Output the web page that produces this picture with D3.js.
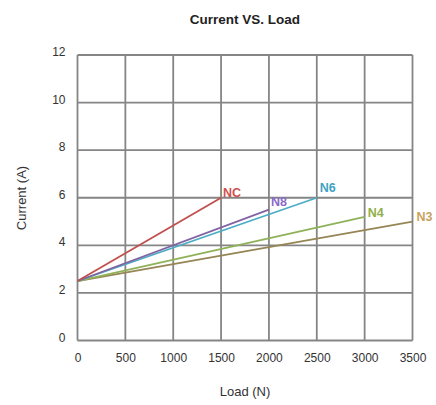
<!DOCTYPE html>
<html>
<head>
<meta charset="utf-8">
<script src="https://cdn.jsdelivr.net/npm/d3@7"></script>
<style>
  html, body { margin: 0; padding: 0; background: #fff; }
  svg { display: block; font-family: "Liberation Sans", Arial, sans-serif; }
</style>
</head>
<body>
<svg id="chart" width="436" height="405"></svg>
<script>
// Current draw versus applied load for each motor variant
const seriesNames = ["NC", "N8", "N6", "N4", "N3"];
const seriesColors = ["#c0504d", "#8064a2", "#4bacc6", "#8fb259", "#968655"];
const labelColors = ["#d0504d", "#8a6ac8", "#3ea3c4", "#8fb04a", "#c9a25c"];
const loadStart = [0, 0, 0, 0, 0];
const loadEnd = [1500, 2000, 2500, 3000, 3500];
const currentStart = [2.5, 2.5, 2.5, 2.5, 2.5];
const currentEnd = [6.0, 5.5, 6.0, 5.2, 5.0];
const xTicks = [0, 500, 1000, 1500, 2000, 2500, 3000, 3500];
const yTicks = [0, 2, 4, 6, 8, 10, 12];

const svg = d3.select("#chart");
const plotLeft = 77.5, plotRight = 412.5, plotTop = 55, plotBottom = 340.5;

const x = d3.scaleLinear().domain([0, 3500]).range([plotLeft, plotRight]);
const y = d3.scaleLinear().domain([0, 12]).range([plotBottom, plotTop]);

// Title
svg.append("text")
  .attr("x", 245).attr("y", 24)
  .attr("text-anchor", "middle")
  .attr("font-size", 13.5).attr("font-weight", "bold")
  .attr("fill", "#222")
  .text("Current VS. Load");

// Grid
const grid = svg.append("g").attr("stroke", "#858585").attr("stroke-width", 1.8);
grid.selectAll("line.v").data(xTicks).join("line")
  .attr("class", "v")
  .attr("x1", d => x(d)).attr("x2", d => x(d))
  .attr("y1", plotTop).attr("y2", plotBottom);
grid.selectAll("line.h").data(yTicks).join("line")
  .attr("class", "h")
  .attr("x1", plotLeft).attr("x2", plotRight)
  .attr("y1", d => y(d)).attr("y2", d => y(d));

// Axes (labels only, the grid forms the frame)
const xAxis = svg.append("g")
  .attr("transform", `translate(0,${plotBottom})`)
  .call(d3.axisBottom(x).tickValues(xTicks).tickFormat(d3.format("d"))
    .tickSize(0).tickPadding(13));
const yAxis = svg.append("g")
  .attr("transform", `translate(${plotLeft},0)`)
  .call(d3.axisLeft(y).tickValues(yTicks).tickFormat(d3.format("d"))
    .tickSize(0).tickPadding(12));
[xAxis, yAxis].forEach(a => {
  a.select(".domain").remove();
  a.selectAll("text")
    .attr("font-family", "Liberation Sans, Arial, sans-serif")
    .attr("font-size", 12).attr("fill", "#333");
});
yAxis.selectAll("text").attr("dy", "0.05em");

// Axis titles
svg.append("text")
  .attr("x", 245).attr("y", 396)
  .attr("text-anchor", "middle")
  .attr("font-size", 13).attr("fill", "#333")
  .text("Load (N)");
svg.append("text")
  .attr("transform", "translate(26,198) rotate(-90)")
  .attr("text-anchor", "middle")
  .attr("font-size", 13).attr("fill", "#333")
  .text("Current (A)");

// Series lines, drawn back to front
const order = [4, 3, 2, 1, 0];
svg.append("g").selectAll("line").data(order).join("line")
  .attr("x1", i => x(loadStart[i])).attr("y1", i => y(currentStart[i]))
  .attr("x2", i => x(loadEnd[i])).attr("y2", i => y(currentEnd[i]))
  .attr("stroke", i => seriesColors[i])
  .attr("stroke-width", 1.8);

// End labels
const labelDx = [2, 2, 3, 3, 4];
const labelDy = [-1, -4, -6, 0, -1];
svg.append("g").selectAll("text").data(d3.range(seriesNames.length)).join("text")
  .attr("x", i => x(loadEnd[i]) + labelDx[i])
  .attr("y", i => y(currentEnd[i]) + labelDy[i])
  .attr("font-size", 12.5).attr("font-weight", "bold")
  .attr("fill", i => labelColors[i])
  .text(i => seriesNames[i]);
</script>
</body>
</html>
